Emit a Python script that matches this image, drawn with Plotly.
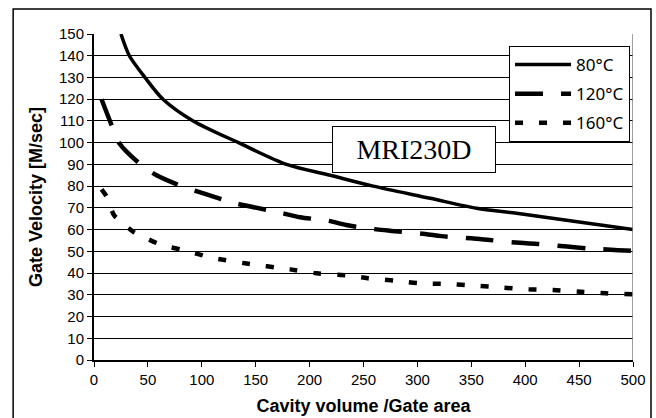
import plotly.graph_objects as go

x80 = [25, 32.8, 47.3, 64, 92, 134, 178.6, 219, 259, 312, 355, 392, 450, 500]
y80 = [150, 140, 130, 120, 110, 100, 90, 85, 80, 74.4, 69.8, 67.5, 63.5, 60]

x120 = [7, 16.4, 23.5, 42.7, 58, 84, 103, 129, 148, 172.5, 191, 217, 234, 262, 276, 307, 322.5, 350, 367, 395, 412, 439, 457, 483, 500]
y120 = [120, 108, 99.7, 90.2, 85, 79.5, 76.4, 72.4, 70.3, 67.8, 65.7, 64.1, 62.1, 60.1, 59.4, 58, 57, 56, 55.2, 53.9, 53.4, 52.2, 51.4, 50.6, 50.2]

x160 = [7, 11.7, 18.5, 24, 36.5, 44, 61, 69, 86, 94, 109, 140, 182, 206.6, 237.5, 254, 279, 302, 327, 355, 376.6, 403, 426, 451, 475, 500]
y160 = [78.5, 75.2, 66.7, 64.1, 59, 57.1, 53.2, 52.1, 50.3, 49.1, 47.1, 44.5, 41.7, 39.9, 38.8, 37.6, 36.5, 35.3, 35, 34.2, 33.4, 32.5, 32.2, 31.4, 30.7, 30.2]

names = ["80°C", "120°C", "160°C"]

fig = go.Figure()
fig.add_trace(go.Scatter(x=x80, y=y80, mode="lines", name=names[0], legendgroup="a",
                         line=dict(color="black", width=3.5, shape="spline", smoothing=0.8)))
fig.add_trace(go.Scatter(x=x120, y=y120, mode="lines", name=names[1], legendgroup="b",
                         line=dict(color="black", width=4.5, shape="spline", smoothing=0.8,
                                   dash="28px,18px")))
fig.add_trace(go.Scatter(x=x160, y=y160, mode="lines", name=names[2], legendgroup="c",
                         line=dict(color="black", width=4.5, shape="spline", smoothing=0.8,
                                   dash="8px,16px")))

tickfont = dict(family="Liberation Sans, Arial, sans-serif", size=15, color="black")
titlefont = dict(family="Liberation Sans, Arial, sans-serif", size=18, color="black")

fig.update_xaxes(range=[0, 500], dtick=50, tick0=0, showgrid=False, zeroline=False,
                 showline=True, linecolor="black", linewidth=2, automargin=False,
                 ticks="outside", ticklen=5, tickcolor="black", tickfont=tickfont,
                 title=dict(text="<b>Cavity volume /Gate area</b>", font=titlefont, standoff=12))
fig.update_yaxes(range=[0, 150], dtick=10, tick0=0, showgrid=True, gridcolor="black", gridwidth=1,
                 zeroline=False, showline=True, linecolor="black", linewidth=2, automargin=False,
                 ticks="outside", ticklen=5, tickcolor="black", tickfont=tickfont,
                 title=dict(text="<b>Gate Velocity [M/sec]</b>", font=titlefont, standoff=12))

# plot-area right border
fig.add_shape(type="line", xref="x", yref="y", x0=500, x1=500, y0=0, y1=150,
              line=dict(color="#808080", width=1.5))
# outer chart frame
fig.add_shape(type="rect", xref="paper", yref="paper", x0=-0.150, x1=1.0334, y0=-0.4, y1=1.0767,
              line=dict(color="black", width=1.5), layer="below")

fig.add_annotation(x=297, y=97, xref="x", yref="y", text="MRI230D", showarrow=False,
                   font=dict(family="Liberation Serif, Times New Roman, serif", size=28, color="black"),
                   bgcolor="white", bordercolor="black", borderwidth=1, width=160, height=43)

fig.update_layout(
    width=656, height=418,
    margin=dict(l=94, r=23, t=34, b=58, autoexpand=False),
    paper_bgcolor="white", plot_bgcolor="white",
    showlegend=True,
    legend=dict(x=0.770, y=0.963, xanchor="left", yanchor="top",
                bgcolor="white", bordercolor="black", borderwidth=1,
                font=dict(family="Noto Sans, sans-serif", size=17, color="black"),
                itemwidth=56, tracegroupgap=4),
)

fig.write_html("out.html")
